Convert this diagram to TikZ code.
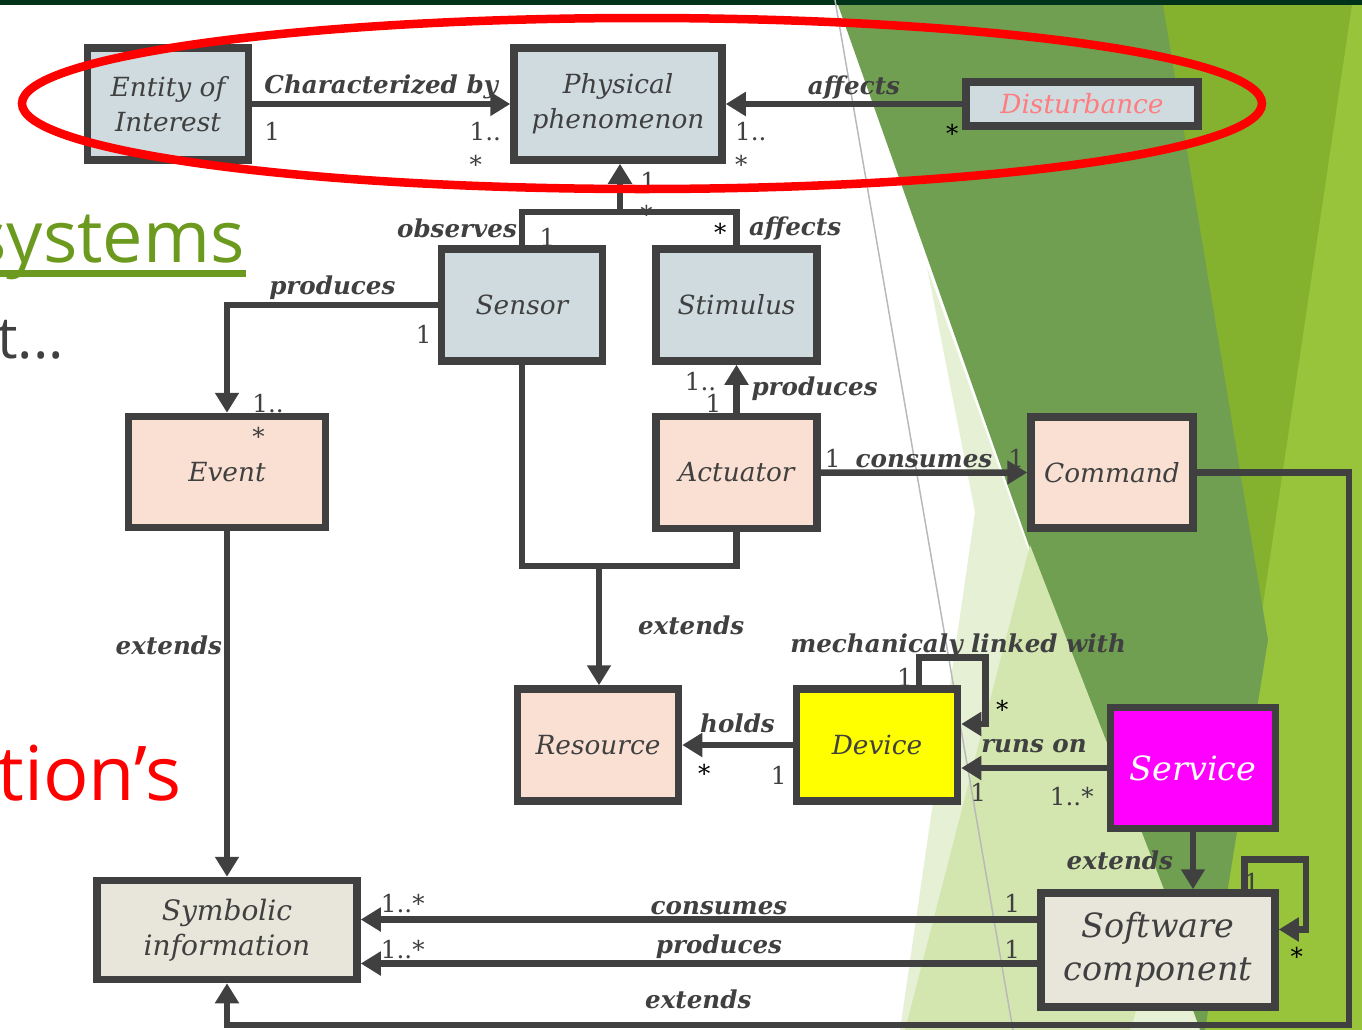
\documentclass[tikz,border=0pt]{standalone}
\usepackage{fontspec}
\setmainfont{DejaVu Serif}
\newfontfamily\slidefont{Open Sans}
\usepackage{tikz}
\usetikzlibrary{arrows.meta, positioning, calc}
\usepackage{xcolor}
\definecolor{myred}{RGB}{255, 0, 0}
\definecolor{mygreen}{RGB}{107, 154, 31}
\definecolor{mygray}{RGB}{64, 64, 64}
\definecolor{myblue}{RGB}{207, 219, 223}
\definecolor{mypeach}{RGB}{249, 224, 211}
\definecolor{mybeige}{RGB}{232, 230, 218}
\definecolor{mypink}{RGB}{255, 124, 128}
\definecolor{myyellow}{RGB}{255, 255, 0}
\definecolor{mymagenta}{RGB}{255, 0, 255}
\definecolor{mytop}{RGB}{0, 51, 26}
\definecolor{mymid}{RGB}{113, 159, 81}
\definecolor{mybright}{RGB}{132, 178, 47}
\definecolor{myfar}{RGB}{152, 196, 60}
\definecolor{mypale}{RGB}{230, 240, 213}
\definecolor{mylight}{RGB}{212, 230, 176}

\begin{document}
\begin{tikzpicture}[x=0.2mm, y=-0.2mm,
    box/.style={draw=mygray, line width=1.5mm, align=center, text=mygray, inner sep=1pt,
        font=\itshape\fontsize{15}{20}\selectfont, minimum width=32.2mm, minimum height=22.4mm},
    bluebox/.style={box, fill=myblue},
    peachbox/.style={box, fill=mypeach},
    beigebox/.style={box, fill=mybeige},
    wire/.style={draw=mygray, line width=1.3mm},
    assoc/.style={wire, -{Triangle[length=4mm, width=4.6mm]}},
    lbl/.style={font=\bfseries\itshape\fontsize{14}{17}\selectfont, text=mygray, inner sep=1pt},
    mult/.style={font=\fontsize{14}{19}\selectfont, text=mygray, inner sep=1pt, align=left},
    star/.style={mult, text=black}]

    % --- Tło slajdu ---
    \path[use as bounding box] (0,0) rectangle (1362,1030);
    \clip (0,0) rectangle (1362,1030);
    \fill[mybright] (1100,5) rectangle (1362,1030);
    \fill[myfar] (1352,5) -- (1362,5) -- (1362,1030) -- (1200,1030) -- cycle;
    \fill[mymid] (838,5) -- (1163,5) -- (1268,640) -- (1205,1030) -- (1200,1030) -- cycle;
    \fill[mypale] (927,267) -- (975,512) -- (900,1030) -- (1200,1030) -- cycle;
    \fill[mylight] (1030,545) -- (1170,905) -- (1130,1030) -- (905,1030) -- cycle;
    \fill[mytop] (0,0) rectangle (1362,5);
    \draw[gray!55, line width=0.3mm] (835,0) -- (1013,1030);

    % Resztki tekstu slajdu
    \node[anchor=base east, inner sep=0pt, text=mygreen, font=\slidefont\fontsize{41}{41}\selectfont] (systitle) at (245,262) {systems};
    \draw[mygreen, line width=1.4mm] (0,273) -- (246,273);
    \node[anchor=base west, inner sep=0pt, text=mygray, font=\slidefont\fontsize{33}{33}\selectfont] (dots) at (-3,358) {t...};
    \node[anchor=base west, inner sep=0pt, text=myred, font=\slidefont\fontsize{43}{43}\selectfont] (tions) at (-3,800) {tion’s};

    % --- Górny rząd ---
    \node[bluebox] (entity) at (168,104) {Entity of\\Interest};
    \node[bluebox, minimum width=41.6mm] (phys) at (618,104) {Physical\\phenomenon};
    \node[bluebox, minimum width=46.4mm, minimum height=8.8mm, text=mypink] (disturb) at (1082,104) {Disturbance};

    % --- Czujnik, bodziec, aktuator ---
    \node[bluebox] (sensor) at (522,305) {Sensor};
    \node[bluebox, right=9.2mm of sensor] (stimulus) {Stimulus};
    \node[peachbox, below=9.6mm of stimulus] (actuator) {Actuator};
    \node[peachbox, minimum width=39.4mm, minimum height=22.2mm] (event) at (227,472) {Event};
    \node[peachbox, minimum width=32.4mm, minimum height=22.2mm] (command) at (1112,472.5) {Command};

    % --- Dolna część ---
    \node[peachbox] (resource) at (598,745) {Resource};
    \node[box, fill=myyellow] (device) at (877,745) {Device};
    \node[box, fill=mymagenta, text=white, minimum width=33mm, minimum height=24.2mm,
        font=\itshape\fontsize{19}{24}\selectfont] (service) at (1193,768) {Service};
    \node[beigebox, minimum width=46.8mm, minimum height=22.8mm,
        font=\itshape\fontsize{19}{24.5}\selectfont] (software) at (1158,950) {Software\\component};
    \node[beigebox, minimum width=52mm, minimum height=19.8mm,
        font=\itshape\fontsize{16}{20}\selectfont] (symbolic) at (227,930) {Symbolic\\information};

    % --- Powiązania w górnym rzędzie ---
    \draw[assoc] (entity) -- node[lbl, midway, above]{Characterized by}
        node[mult, at start, xshift=4mm, yshift=-5.4mm]{1}
        node[mult, at end, xshift=-5mm, yshift=-8.8mm]{1..\\*} (phys);
    \draw[assoc] (disturb) -- node[lbl, midway, above, xshift=2mm]{affects}
        node[star, at start, xshift=-2mm, yshift=-5.8mm]{*}
        node[mult, at end, xshift=5mm, yshift=-8.8mm]{1..\\*} (phys);

    % Czujnik i bodziec do zjawiska
    \coordinate (jtop) at (620,212);
    \draw[wire] (sensor.north) |- node[lbl, pos=0.25, left]{observes}
        node[mult, pos=0.12, right=2.5mm]{1} (jtop)
        -| node[star, pos=0.8, left=1mm]{*} node[lbl, pos=0.75, right=1.5mm]{affects} (stimulus.north);
    \draw[assoc] (jtop) -- node[mult, at start, xshift=7.2mm, yshift=2.8mm]{1..\\*} (jtop |- phys.south);

    % Czujnik do zdarzenia
    \draw[assoc] (sensor.west) -| node[lbl, pos=0.25, above]{produces}
        node[mult, at start, xshift=-2.8mm, yshift=-5.8mm]{1}
        node[mult, at end, xshift=8.2mm, yshift=-1.4mm]{1..\\*} (event.north);

    % Aktuator do bodźca i polecenia
    \draw[assoc] (actuator) -- node[lbl, midway, right=2mm]{produces}
        node[mult, at start, xshift=-4.6mm, yshift=1.8mm]{1}
        node[mult, at end, xshift=-7.2mm, yshift=-3.4mm]{1..} (stimulus);
    \draw[assoc] (actuator) -- node[lbl, midway, above]{consumes}
        node[mult, at start, xshift=2.4mm, yshift=2.8mm]{1}
        node[mult, at end, xshift=-2.2mm, yshift=2.8mm]{1} (command);

    % Czujnik i aktuator rozszerzają zasób
    \coordinate (jbot) at (599,566);
    \draw[wire] (sensor.south) |- (jbot) -| (actuator.south);
    \draw[assoc] (jbot) -- node[lbl, midway, right=6.8mm]{extends} (jbot |- resource.north);

    % Zdarzenie do informacji
    \draw[assoc] (event) -- node[lbl, pos=0.33, left]{extends} (symbolic);

    % --- Urządzenie i usługa ---
    \draw[assoc] (device) -- node[lbl, midway, above=1.5mm]{holds}
        node[star, at end, xshift=4.4mm, yshift=-5.6mm]{*}
        node[mult, at start, xshift=-2.8mm, yshift=-6mm]{1} (resource);
    \draw[assoc] ([xshift=8.4mm]device.north) node[mult, xshift=-2.8mm, yshift=1.6mm]{1}
        -- ++(0mm,5.6mm) -| node[lbl, pos=0.25, above=-1.2mm, xshift=1.2mm]{mechanicaly linked with}
        ([xshift=4.8mm, yshift=4.2mm]device.east) node[star, xshift=3.4mm, yshift=3mm]{*}
        -- ([yshift=4.2mm]device.east);
    \draw[assoc] (service.west) -- node[lbl, midway, above=2mm]{runs on}
        node[mult, at start, xshift=-7mm, yshift=-5.8mm]{1..*}
        node[mult, at end, xshift=3.4mm, yshift=-4.8mm]{1} (service.west -| device.east);
    \draw[assoc] (service.south) -- node[lbl, midway, left=3mm]{extends} (service.south |- software.north);

    % Komponent programowy
    \draw[assoc] ([xshift=17.3mm]software.north) node[mult, xshift=1.5mm, yshift=1.4mm]{1}
        -- ++(0mm,6mm) -| ([xshift=5.4mm, yshift=4.1mm]software.east)
        node[star, xshift=-1.8mm, yshift=-5.4mm]{*} -- ([yshift=4.1mm]software.east);
    \coordinate (swcons) at ([yshift=6.1mm]software.west);
    \coordinate (swprod) at ([yshift=-2.7mm]software.west);
    \draw[assoc] (swcons) -- node[lbl, midway, above, xshift=4mm]{consumes}
        node[mult, at start, xshift=-5mm, yshift=3.2mm]{1}
        node[mult, at end, xshift=8.4mm, yshift=3.2mm]{1..*} (swcons -| symbolic.east);
    \draw[assoc] (swprod) -- node[lbl, midway, above, xshift=4mm]{produces}
        node[mult, at start, xshift=-5mm, yshift=2.8mm]{1}
        node[mult, at end, xshift=8.4mm, yshift=2.8mm]{1..*} (swprod -| symbolic.east);

    % Polecenie rozszerza informację (obejście dookoła)
    \coordinate (cbot) at (1349,1025);
    \draw[assoc] (command.east) -| (cbot) -| node[lbl, pos=0.29, above=2.2mm]{extends} (symbolic.south);

    % Czerwona elipsa wokół górnego rzędu
    \draw[myred, line width=1.7mm] (642,103.5) ellipse [x radius=124mm, y radius=17.1mm];
\end{tikzpicture}
\end{document}
